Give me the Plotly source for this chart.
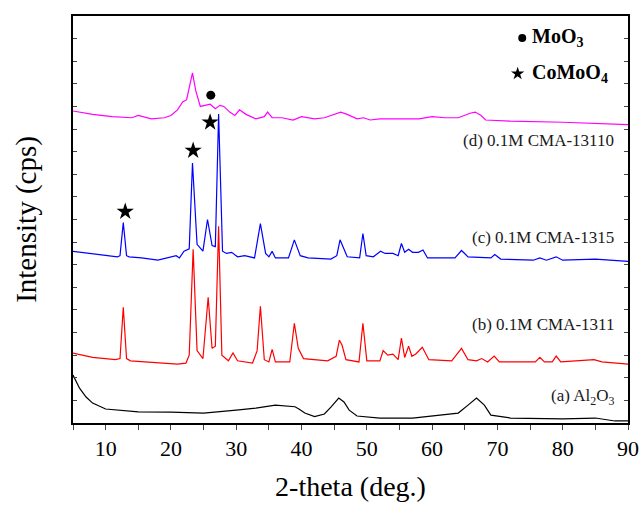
import plotly.graph_objects as go

# (a) Al2O3
a_x = [5, 6, 7, 8, 10, 12, 15, 20, 25, 30, 33, 36, 37.5, 39, 39.6, 40.5, 42, 43.5, 44.5, 45.7, 46.5, 47.3, 48.5, 52, 57, 60, 64, 65.5, 66.8, 68, 69, 72, 80, 85, 88, 90]
a_y = [2.12, 1.54, 1.15, 0.88, 0.62, 0.57, 0.49, 0.48, 0.44, 0.57, 0.66, 0.79, 0.75, 0.72, 0.62, 0.44, 0.28, 0.40, 0.70, 1.10, 0.93, 0.57, 0.31, 0.22, 0.22, 0.31, 0.44, 0.79, 1.10, 0.79, 0.35, 0.22, 0.18, 0.22, 0.09, 0.09]

# (b) 0.1M CMA-1311
b_x = [5, 8, 11.5, 12.2, 12.7, 13.2, 13.8, 18, 21, 22.3, 22.8, 23.4, 24.0, 24.9, 25.7, 26.3, 26.8, 27.3, 27.8, 28.8, 29.5, 30.2, 32.5, 33.2, 33.7, 34.3, 35.0, 35.5, 36.0, 38.2, 38.9, 39.5, 40.3, 44, 45.3, 45.8, 46.2, 46.8, 48.8, 49.4, 50.0, 52.0, 52.5, 53.2, 54.0, 54.8, 55.3, 55.8, 56.4, 56.9, 57.5, 58.5, 59.5, 63, 64.5, 65.5, 66.8, 67.6, 68.5, 69.5, 70.3, 75.8, 76.5, 77.2, 78.4, 79.0, 79.7, 82, 84.8, 86, 90]
b_y = [3.09, 2.90, 2.80, 2.85, 5.12, 2.85, 2.75, 2.65, 2.60, 2.65, 3.00, 7.68, 3.20, 2.85, 5.56, 3.30, 3.40, 8.70, 3.00, 2.75, 3.10, 2.75, 2.65, 3.20, 5.16, 2.80, 2.70, 3.26, 2.70, 2.70, 4.41, 3.30, 2.85, 2.75, 2.95, 3.66, 3.45, 2.80, 2.70, 4.41, 2.75, 2.75, 3.20, 3.00, 3.05, 2.80, 3.75, 2.90, 3.40, 2.95, 3.05, 3.35, 2.80, 2.75, 3.30, 2.80, 2.75, 2.85, 2.70, 2.96, 2.70, 2.70, 2.90, 2.70, 2.70, 2.96, 2.70, 2.75, 2.80, 2.70, 2.60]

# (c) 0.1M CMA-1315
c_x = [5, 9, 11.8, 12.2, 12.7, 13.2, 13.6, 15.5, 18, 20.8, 21.3, 22.0, 22.8, 23.3, 24.0, 24.9, 25.6, 26.3, 26.8, 27.3, 27.9, 28.5, 29.3, 30.2, 31.3, 32.8, 33.7, 34.5, 35.0, 35.5, 36.0, 38.0, 38.9, 39.8, 41, 44.5, 45.4, 45.9, 46.6, 47.0, 48.9, 49.4, 49.9, 51.0, 52.1, 52.8, 54.0, 54.8, 55.3, 55.8, 56.4, 57.0, 57.9, 58.6, 59.3, 63.5, 64.5, 65.5, 69.0, 69.6, 70.5, 75.5, 76.5, 77.5, 79.0, 80.0, 85, 90]
c_y = [7.59, 7.45, 7.35, 7.40, 8.87, 7.40, 7.35, 7.30, 7.20, 7.40, 7.30, 7.60, 7.70, 11.50, 7.90, 7.60, 9.00, 7.85, 7.80, 13.67, 7.60, 7.50, 7.55, 7.35, 7.40, 7.30, 8.82, 7.50, 7.35, 7.59, 7.30, 7.30, 8.10, 7.40, 7.30, 7.25, 7.40, 8.10, 7.60, 7.35, 7.30, 8.38, 7.40, 7.35, 7.60, 7.50, 7.50, 7.40, 7.94, 7.55, 7.68, 7.55, 7.55, 7.65, 7.30, 7.30, 7.63, 7.35, 7.30, 7.45, 7.25, 7.20, 7.30, 7.20, 7.35, 7.20, 7.25, 7.15]

# (d) 0.1M CMA-13110
d_x = [5, 8, 11, 14, 15, 17, 19, 20, 21, 21.8, 22.4, 22.9, 23.3, 23.8, 24.5, 25.2, 26.0, 26.8, 27.5, 28.1, 29.0, 29.8, 30.5, 31.5, 33.0, 34.3, 34.8, 35.5, 37, 38.7, 40, 42, 43.5, 46, 47, 48.5, 49.5, 50.5, 52, 55, 58, 60, 62, 64, 65.8, 66.6, 67.5, 68.2, 72, 80, 85, 90]
d_y = [13.80, 13.65, 13.55, 13.50, 13.60, 13.45, 13.50, 13.60, 13.85, 14.20, 14.30, 14.90, 15.48, 14.70, 14.00, 14.05, 14.10, 13.90, 14.05, 14.00, 13.75, 13.60, 13.85, 13.65, 13.45, 13.55, 13.75, 13.50, 13.50, 13.40, 13.55, 13.45, 13.50, 13.75, 13.65, 13.45, 13.50, 13.40, 13.45, 13.45, 13.45, 13.55, 13.50, 13.50, 13.70, 13.75, 13.60, 13.40, 13.35, 13.30, 13.25, 13.20]

series_names = ["(a) Al<sub>2</sub>O<sub>3</sub>", "(b) 0.1M CMA-1311", "(c) 0.1M CMA-1315", "(d) 0.1M CMA-13110"]
series_colors = ["black", "#ff0000", "#0000ff", "#ff00ff"]
label_pos = [(88.2, 1.15), (88.2, 4.35), (88.2, 8.2), (88.2, 12.5)]

# phase markers
moo3_x = [26.1]
moo3_y = [14.5]
comoo4_x = [13.0, 23.4, 26.0]
comoo4_y = [9.35, 12.05, 13.3]

xs = [a_x, b_x, c_x, d_x]
ys = [a_y, b_y, c_y, d_y]

FONT = "Liberation Serif"

fig = go.Figure()
for x, y, col in zip(xs, ys, series_colors):
    fig.add_trace(go.Scatter(x=x, y=y, mode="lines", line=dict(color=col, width=1.2), showlegend=False))

fig.add_trace(go.Scatter(x=moo3_x, y=moo3_y, mode="markers",
                         marker=dict(symbol="circle", size=9, color="black"), showlegend=False))
fig.add_trace(go.Scatter(x=comoo4_x, y=comoo4_y, mode="markers",
                         marker=dict(symbol="star", size=13, color="black", line=dict(width=0)), showlegend=False))
# key markers
fig.add_trace(go.Scatter(x=[73.8], y=[17.03], mode="markers",
                         marker=dict(symbol="circle", size=8, color="black"), showlegend=False))
fig.add_trace(go.Scatter(x=[73.1], y=[15.45], mode="markers",
                         marker=dict(symbol="star", size=10, color="black", line=dict(width=0)), showlegend=False))

for name, (lx, ly) in zip(series_names, label_pos):
    fig.add_annotation(x=lx, y=ly, text=name, showarrow=False, xanchor="right", yanchor="middle",
                       font=dict(family=FONT, size=17, color="#1a1a1a"))

fig.add_annotation(x=75.0, y=17.03, text="<b>MoO<sub>3</sub></b>", showarrow=False, xanchor="left",
                   yanchor="middle", font=dict(family=FONT, size=20, color="black"))
fig.add_annotation(x=75.0, y=15.45, text="<b>CoMoO<sub>4</sub></b>", showarrow=False, xanchor="left",
                   yanchor="middle", font=dict(family=FONT, size=20, color="black"))

fig.update_layout(
    width=641, height=505,
    margin=dict(l=73, r=13, t=16, b=82),
    paper_bgcolor="white", plot_bgcolor="white",
    font=dict(family=FONT, color="black"),
)
fig.update_xaxes(range=[5, 90], dtick=10, tick0=0, ticks="outside", ticklen=5, tickwidth=1.2,
                 minor=dict(dtick=5, tick0=0, ticks="outside", ticklen=5, tickwidth=1.2),
                 showline=True, linecolor="black", linewidth=1.6, mirror=True, showgrid=False, zeroline=False,
                 automargin=False,
                 tickfont=dict(family=FONT, size=22, color="black"),
                 title=dict(text="2-theta (deg.)", font=dict(family=FONT, size=28, color="black"), standoff=16))
fig.update_yaxes(range=[0, 18], dtick=1, tick0=0, ticks="inside", ticklen=4, tickwidth=1,
                 showticklabels=False, showline=True, linecolor="black", linewidth=1.6, mirror="ticks",
                 showgrid=False, zeroline=False, automargin=False,
                 title=dict(text="Intensity (cps)", font=dict(family=FONT, size=29, color="black"), standoff=26))

fig.write_html("out.html")
